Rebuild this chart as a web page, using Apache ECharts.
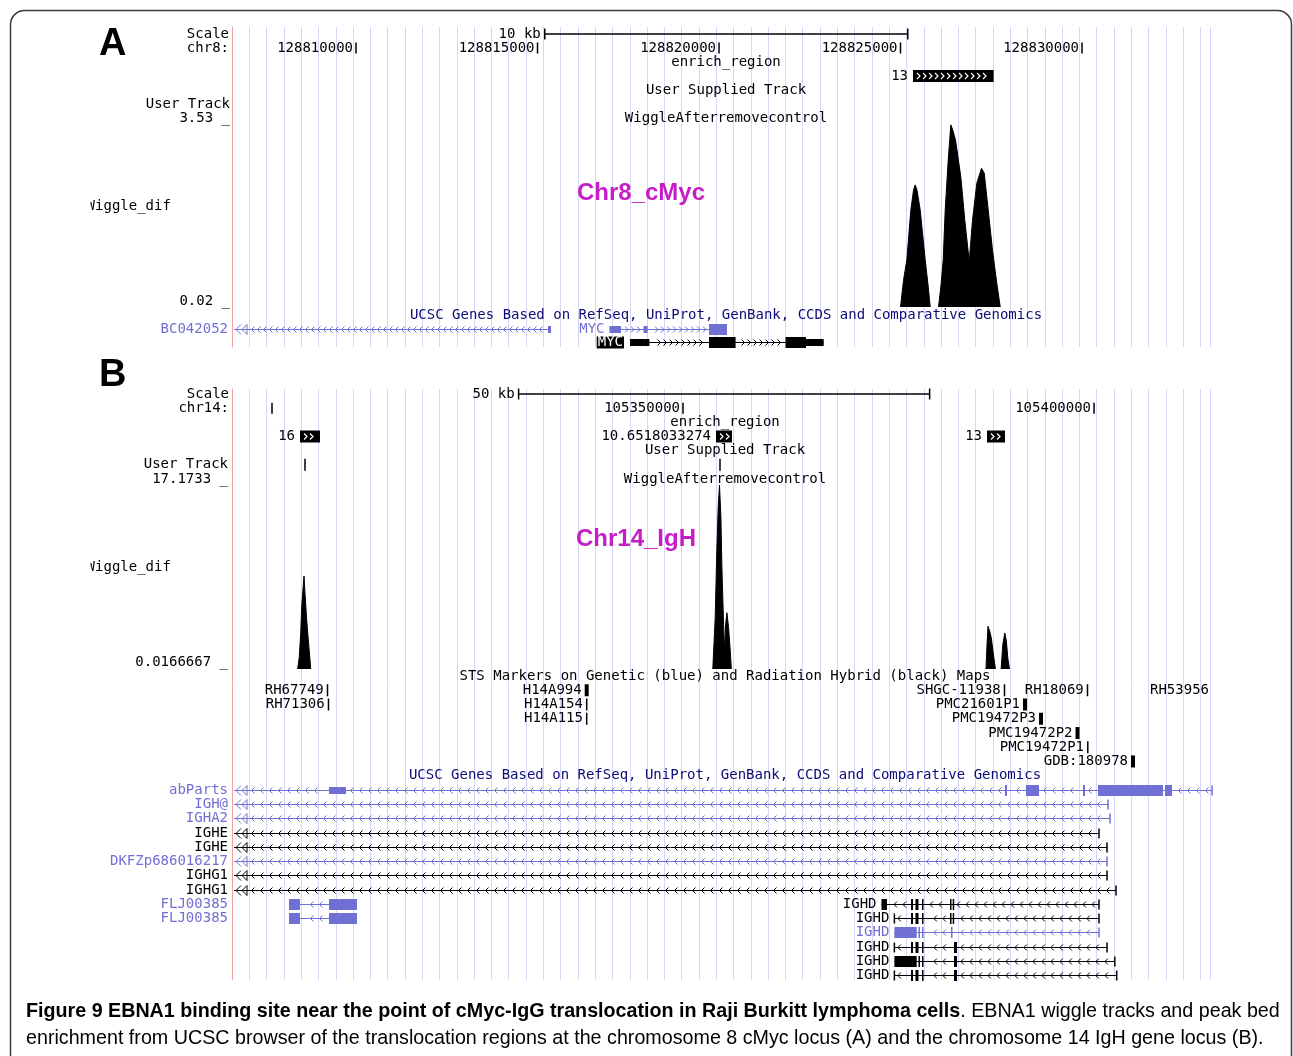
<!DOCTYPE html>
<html><head><meta charset="utf-8">
<script src="https://cdn.jsdelivr.net/npm/echarts@6/dist/echarts.min.js"></script>
<style>html,body{margin:0;padding:0;background:#fff}#c{width:1293px;height:1056px}</style>
</head><body><div id="c"></div>
<script>
// ---------------- DATA ----------------
// Panel A : chr8 (cMyc locus)
const A_RANGE = [128806584, 128833801];
const A_TICKS = [128810000, 128815000, 128820000, 128825000, 128830000];
const A_TICK_LABELS = ['128810000', '128815000', '128820000', '128825000', '128830000'];
const A_SCALEBAR = [[128815200, 128825200, 0]];
const A_BED = [[128825344, 128827565, 3]];
const A_BED_LABELS = ['13'];
const A_WIG_RANGE = [0.02, 3.53];
const A_PEAK1 = [[128825000,0.02],[128825083,0.52],[128825174,0.90],[128825284,1.83],[128825358,2.20],[128825405,2.30],[128825455,2.20],[128825543,1.83],[128825680,0.90],[128825758,0.43],[128825818,0.02]];
const A_PEAK2 = [[128826047,0.02],[128826116,0.43],[128826176,0.90],[128826231,1.83],[128826314,2.76],[128826386,3.42],[128826441,3.32],[128826515,3.14],[128826661,2.45],[128826771,1.64],[128826893,0.87],[128826983,1.64],[128827102,2.33],[128827231,2.61],[128827306,2.52],[128827416,1.83],[128827534,1.08],[128827653,0.46],[128827747,0.02]];
// genes: name, row, start, end, strand, shade, label mode
const A_GENES = [
  ['BC042052', 1, 128800000, 128815372, '-', 'light', 'left'],
  ['MYC',      1, 128816984, 128820220, '+', 'light', 'inline'],
  ['MYC',      2, 128817548, 128822884, '+', 'dark',  'box']
];
// exons: gene index, start, end, tall(1)/thin(0)
const A_EXONS = [
  [0, 128815289, 128815372, 0],
  [1, 128816984, 128817300, 0], [1, 128817920, 128818033, 0], [1, 128819724, 128820220, 1],
  [2, 128817548, 128818082, 0], [2, 128819724, 128820457, 1], [2, 128821832, 128822397, 1], [2, 128822397, 128822884, 0]
];

// Panel B : chr14 (IgH locus)
const B_RANGE = [105295134, 105415324];
const B_TICKS = [105300000, 105350000, 105400000];
const B_TICK_LABELS = ['', '105350000', '105400000'];
const B_SCALEBAR = [[105330000, 105380000, 0]];
const SCALE_LABELS = ['10 kb', '50 kb'];
const B_BED = [[105303406, 105305839, 3], [105354013, 105355959, 3], [105386980, 105389170, 3]];
const B_BED_LABELS = ['16', '10.6518033274', '13'];
const B_USER_MARKS = [[105304014, 5], [105354499, 5]];
const B_WIG_RANGE = [0.0166667, 17.1733];
const B_PEAK1 = [[105303126,0.0167],[105303321,1.13],[105303491,3.26],[105303613,5.67],[105303893,8.46],[105304014,6.89],[105304221,4.46],[105304416,2.65],[105304623,0.83],[105304708,0.0167]];
const B_PEAK2 = [[105353623,0.0167],[105353915,4.66],[105354110,10.76],[105354280,14.72],[105354438,16.70],[105354608,13.81],[105354730,9.24],[105354937,4.06],[105355058,1.62],[105355180,4.06],[105355338,5.12],[105355545,3.75],[105355752,1.62],[105355874,0.0167]];
const B_PEAK3 = [[105386858,0.0167],[105386980,2.23],[105387101,3.90],[105387308,3.45],[105387503,2.84],[105387710,1.62],[105388002,0.0167]];
const B_PEAK4 = [[105388696,0.0167],[105388903,2.23],[105389146,3.29],[105389341,2.53],[105389511,1.02],[105389718,0.0167]];
// STS markers: name, row, position, marker kind
const B_STS = [
  ['RH67749', 1, 105306752, 'thin'], ['H14A994', 1, 105338283, 'thick'], ['SHGC-11938', 1, 105389108, 'thin'],
  ['RH18069', 1, 105399205, 'thin'], ['RH53956', 1, 105414351, 'none'],
  ['RH71306', 2, 105306870, 'thin'], ['H14A154', 2, 105338283, 'thin'], ['PMC21601P1', 2, 105391602, 'thick'],
  ['H14A115', 3, 105338283, 'thin'], ['PMC19472P3', 3, 105393549, 'thick'],
  ['PMC19472P2', 4, 105397989, 'thick'],
  ['PMC19472P1', 5, 105399241, 'thin'],
  ['GDB:180978', 6, 105404740, 'thick']
];
const B_GENES = [
  ['abParts', 8, 105280000, 105414351, '-', 'light', 'left'],
  ['IGH@', 9, 105280000, 105401699, '-', 'light', 'left'],
  ['IGHA2', 10, 105280000, 105401943, '-', 'light', 'left'],
  ['IGHE', 11, 105280000, 105400605, '-', 'dark', 'left'],
  ['IGHE', 12, 105280000, 105401578, '-', 'dark', 'left'],
  ['DKFZp686016217', 13, 105280000, 105401578, '-', 'light', 'left'],
  ['IGHG1', 14, 105280000, 105401578, '-', 'dark', 'left'],
  ['IGHG1', 15, 105280000, 105402673, '-', 'dark', 'left'],
  ['FLJ00385', 16, 105302068, 105310340, '-', 'light', 'left'],
  ['FLJ00385', 17, 105302068, 105310340, '-', 'light', 'left'],
  ['IGHD', 16, 105374144, 105400605, '-', 'dark', 'inline'],
  ['IGHD', 17, 105375713, 105400605, '-', 'dark', 'inline'],
  ['IGHD', 18, 105375713, 105400605, '-', 'light', 'inline'],
  ['IGHD', 19, 105375713, 105401578, '-', 'dark', 'inline'],
  ['IGHD', 20, 105375713, 105402527, '-', 'dark', 'inline'],
  ['IGHD', 21, 105375713, 105402758, '-', 'dark', 'inline']
];
const B_EXONS = [
  [0,105306934,105309002,0],[0,105389169,105389413,1],[0,105391725,105393306,1],[0,105398658,105398901,1],[0,105400483,105408390,1],[0,105408633,105409485,1],
  [8,105302068,105303406,1],[8,105306934,105310340,1],
  [9,105302068,105303406,1],[9,105306934,105310340,1],
  [10,105374144,105374813,1],[10,105377733,105377976,1],[10,105378280,105378645,1],[10,105379073,105379195,1],[10,105382479,105382600,1],[10,105382808,105382929,1],
  [11,105377733,105377976,1],[11,105378280,105378645,1],[11,105379073,105379195,1],[11,105382479,105382600,1],[11,105382808,105382929,1],
  [12,105375713,105378426,1],[12,105378645,105378770,1],[12,105379073,105379195,1],[12,105382600,105382720,1],
  [13,105377733,105377976,1],[13,105378280,105378645,1],[13,105379073,105379195,1],[13,105382965,105383330,1],
  [14,105375713,105378426,1],[14,105378645,105378770,1],[14,105379073,105379195,1],[14,105382965,105383330,1],
  [15,105377733,105377976,1],[15,105378280,105378645,1],[15,105379073,105379195,1],[15,105382965,105383330,1]
];

// ---------------- STYLE / LAYOUT ----------------
const LIGHT = '#7070d4', DARK = '#000', NAVY = '#0c0c78', GUIDE = '#d6d6f6', REDLINE = '#f0a0a0', MAGENTA = '#c61ec6';
const MONO = '"DejaVu Sans Mono", monospace';
const FONT = '14px ' + MONO;
const L = 232, W = 988, CX = L + W / 2;
const GUIDE_STEP = 17.294, GUIDE_UNITS = 56.55;
const GA = {top: 27, h: 320}, GB = {top: 389, h: 591};
const TA = {top: 27, rows: 7, rowH: 14};
const WA = {top: 119, h: 188};
const BA = {top: 308.25, rows: 3, rowH: 13.5};
const TB = {top: 386.9, rows: 7, rowH: 14.17};
const WB = {top: 480, h: 189};
const BB = {top: 668.9, rows: 22, rowH: 14.238};
const rowY = (g, r) => g.top + (r + 0.5) * g.rowH;

const mctx = document.createElement('canvas').getContext('2d');
function measure(s, font) { mctx.font = font; return mctx.measureText(s).width; }

function txt(x, y, s, color, align, font) {
  return {type: 'text', silent: true, style: {text: s, x: x, y: y, fill: color, font: font || FONT,
    textAlign: align || 'left', textVerticalAlign: 'middle'}};
}

// ---------------- RENDERERS ----------------
function tickRenderer(labels) {
  return function (params, api) {
    const p = api.coord([api.value(0), api.value(1)]);
    const kids = [{type: 'rect', shape: {x: p[0] - 0.75, y: p[1] - 5.5, width: 1.5, height: 11}, style: {fill: '#000'}}];
    const lab = labels[params.dataIndex];
    if (lab) kids.push(txt(p[0] - 3, p[1], lab, '#000', 'right'));
    return {type: 'group', children: kids};
  };
}
function scaleRenderer(label) {
  return function (params, api) {
    const a = api.coord([api.value(0), api.value(2)]), b = api.coord([api.value(1), api.value(2)]);
    const y = a[1];
    return {type: 'group', children: [
      {type: 'rect', shape: {x: a[0], y: y - 0.75, width: b[0] - a[0], height: 1.5}, style: {fill: '#000'}},
      {type: 'rect', shape: {x: a[0] - 0.75, y: y - 5.5, width: 1.5, height: 11}, style: {fill: '#000'}},
      {type: 'rect', shape: {x: b[0] - 0.75, y: y - 5.5, width: 1.5, height: 11}, style: {fill: '#000'}},
      txt(a[0] - 4, y, label, '#000', 'right')
    ]};
  };
}
function bedRenderer(labels) {
  return function (params, api) {
    const a = api.coord([api.value(0), api.value(2)]), b = api.coord([api.value(1), api.value(2)]);
    const y = a[1];
    let d = '';
    for (let x = a[0] + 4; x + 3 < b[0] - 2; x += 6) d += 'M' + x + ',' + (y - 3) + 'L' + (x + 3) + ',' + y + 'L' + x + ',' + (y + 3);
    const kids = [{type: 'rect', shape: {x: a[0], y: y - 6, width: b[0] - a[0], height: 12}, style: {fill: '#000'}}];
    if (d) kids.push({type: 'path', shape: {pathData: d}, style: {stroke: '#fff', fill: 'none', lineWidth: 1.2}});
    kids.push(txt(a[0] - 5, y, labels[params.dataIndex], '#000', 'right'));
    return {type: 'group', children: kids};
  };
}
function markRenderer(params, api) {
  const p = api.coord([api.value(0), api.value(1)]);
  return {type: 'rect', shape: {x: p[0] - 0.75, y: p[1] - 6, width: 1.5, height: 12}, style: {fill: '#000'}};
}
function stsRenderer(items) {
  return function (params, api) {
    const it = items[params.dataIndex];
    const p = api.coord([it[2], it[1]]);
    const kids = [];
    const w = it[3] === 'thick' ? 4 : (it[3] === 'thin' ? 1.5 : 0);
    if (w) kids.push({type: 'rect', shape: {x: p[0] - w / 2, y: p[1] - 6, width: w, height: 12}, style: {fill: '#000'}});
    kids.push(txt(p[0] - w / 2 - 3, p[1], it[0], '#000', 'right'));
    return {type: 'group', children: kids};
  };
}
function geneRenderer(genes, exons, spacing) {
  return function (params, api) {
    const gi = params.dataIndex, g = genes[gi];
    const cs = params.coordSys, Lx = cs.x, Rx = cs.x + cs.width;
    const row = g[1];
    const sP = api.coord([g[2], row]), eP = api.coord([g[3], row]);
    const y = Math.round(sP[1]) + 0.5;
    const col = g[5] === 'light' ? LIGHT : DARK;
    const clipL = sP[0] < Lx;
    const x0 = clipL ? Lx + 2 : sP[0];
    const x1 = Math.min(eP[0], Rx);
    const kids = [{type: 'line', shape: {x1: x0, y1: y, x2: x1, y2: y}, style: {stroke: col, lineWidth: 1}}];
    const ex = exons.filter(e => e[0] === gi).map(e => {
      const a = api.coord([e[1], row])[0], b = api.coord([e[2], row])[0];
      return [a, Math.max(b, a + 1.5), e[3]];
    });
    ex.forEach(r => {
      const h = r[2] ? 11 : 7;
      kids.push({type: 'rect', shape: {x: r[0], y: y - h / 2, width: r[1] - r[0], height: h}, style: {fill: col}});
    });
    const hasAt = x => ex.some(r => Math.abs(r[0] - x) < 2 || Math.abs(r[1] - x) < 2);
    if (!clipL && !hasAt(sP[0])) kids.push({type: 'rect', shape: {x: sP[0] - 0.75, y: y - 5, width: 1.5, height: 10}, style: {fill: col}});
    if (eP[0] <= Rx && !hasAt(eP[0])) kids.push({type: 'rect', shape: {x: eP[0] - 0.75, y: y - 5, width: 1.5, height: 10}, style: {fill: col}});
    let d = '';
    const leftward = g[4] === '-';
    for (let x = x0 + (clipL ? 19 : 5); x < x1 - 3; x += spacing) {
      if (ex.some(r => x > r[0] - 4 && x < r[1] + 4)) continue;
      d += leftward ? ('M' + (x + 1.5) + ',' + (y - 3) + 'L' + (x - 1.5) + ',' + y + 'L' + (x + 1.5) + ',' + (y + 3))
                    : ('M' + (x - 1.5) + ',' + (y - 3) + 'L' + (x + 1.5) + ',' + y + 'L' + (x - 1.5) + ',' + (y + 3));
    }
    if (clipL) {
      d += 'M' + (Lx + 9) + ',' + (y - 5) + 'L' + (Lx + 4) + ',' + y + 'L' + (Lx + 9) + ',' + (y + 5) +
           'M' + (Lx + 15) + ',' + (y - 5) + 'L' + (Lx + 10) + ',' + y + 'L' + (Lx + 15) + ',' + (y + 5) + 'Z';
    }
    if (d) kids.push({type: 'path', shape: {pathData: d}, style: {stroke: col, fill: 'none', lineWidth: 1}});
    if (g[6] === 'left') kids.push(txt(Lx - 4, y, g[0], col, 'right'));
    else if (g[6] === 'inline') kids.push(txt(sP[0] - 5, y, g[0], col, 'right'));
    else if (g[6] === 'box') {
      const w = measure(g[0], FONT) + 2;
      kids.push({type: 'rect', shape: {x: sP[0] - 6 - w, y: y - 6, width: w, height: 12}, style: {fill: '#000'}});
      kids.push(txt(sP[0] - 6 - w / 2, y, g[0], '#fff', 'center'));
    }
    return {type: 'group', children: kids};
  };
}

// ---------------- OPTION ----------------
const grids = [
  {left: L, top: GA.top, width: GUIDE_STEP * GUIDE_UNITS, height: GA.h},
  {left: L, top: GB.top, width: GUIDE_STEP * GUIDE_UNITS, height: GB.h},
  {left: L, top: TA.top, width: W, height: TA.rows * TA.rowH},
  {left: L, top: WA.top, width: W, height: WA.h},
  {left: L, top: BA.top, width: W, height: BA.rows * BA.rowH},
  {left: L, top: TB.top, width: W, height: TB.rows * TB.rowH},
  {left: L, top: WB.top, width: W, height: WB.h},
  {left: L, top: BB.top, width: W, height: BB.rows * BB.rowH}
].map(g => Object.assign({outerBoundsMode: 'none', containLabel: false}, g));

const guideX = gi => ({type: 'value', gridIndex: gi, min: 0, max: GUIDE_UNITS, interval: 1,
  axisLine: {show: false}, axisTick: {show: false}, axisLabel: {show: false},
  splitLine: {show: true, lineStyle: {color: GUIDE, width: 1}}});
const guideY = gi => ({type: 'value', gridIndex: gi, min: 0, max: 1, position: 'left',
  axisLine: {show: true, onZero: false, lineStyle: {color: REDLINE, width: 1}}, axisTick: {show: false},
  axisLabel: {show: false}, splitLine: {show: false}});
const genX = (gi, r) => ({type: 'value', gridIndex: gi, min: r[0], max: r[1], show: false, splitLine: {show: false}});
const rowsY = (gi, rows) => ({type: 'value', gridIndex: gi, min: -0.5, max: rows - 0.5, inverse: true, show: false, splitLine: {show: false}});
const wigY = (gi, r) => ({type: 'value', gridIndex: gi, min: r[0], max: r[1], show: false, splitLine: {show: false}});

const wig = (ax, data) => ({type: 'line', xAxisIndex: ax, yAxisIndex: ax, data: data, symbol: 'none', silent: true,
  lineStyle: {color: '#000', width: 1}, areaStyle: {color: '#000', opacity: 1, origin: 'start'}, z: 3});
const cust = (ax, data, encode, fn) => ({type: 'custom', xAxisIndex: ax, yAxisIndex: ax, data: data, encode: encode,
  renderItem: fn, silent: true, z: 4});

const series = [
  {type: 'line', xAxisIndex: 0, yAxisIndex: 0, data: []},
  {type: 'line', xAxisIndex: 1, yAxisIndex: 1, data: []},
  cust(2, A_SCALEBAR, {x: [0, 1], y: 2}, scaleRenderer(SCALE_LABELS[0])),
  cust(2, A_TICKS.map(v => [v, 1]), {x: 0, y: 1}, tickRenderer(A_TICK_LABELS)),
  cust(2, A_BED, {x: [0, 1], y: 2}, bedRenderer(A_BED_LABELS)),
  wig(3, A_PEAK1), wig(3, A_PEAK2),
  cust(4, A_GENES.map(g => [g[2], g[3], g[1]]), {x: [0, 1], y: 2}, geneRenderer(A_GENES, A_EXONS, 6)),
  cust(5, B_SCALEBAR, {x: [0, 1], y: 2}, scaleRenderer(SCALE_LABELS[1])),
  cust(5, B_TICKS.map(v => [v, 1]), {x: 0, y: 1}, tickRenderer(B_TICK_LABELS)),
  cust(5, B_BED, {x: [0, 1], y: 2}, bedRenderer(B_BED_LABELS)),
  cust(5, B_USER_MARKS, {x: 0, y: 1}, markRenderer),
  wig(6, B_PEAK1), wig(6, B_PEAK2), wig(6, B_PEAK3), wig(6, B_PEAK4),
  cust(7, B_STS.map(s => [s[2], s[1]]), {x: 0, y: 1}, stsRenderer(B_STS)),
  cust(7, B_GENES.map(g => [g[2], g[3], g[1]]), {x: [0, 1], y: 2}, geneRenderer(B_GENES, B_EXONS, 9))
];

// static labels
function T(text, x, y, align, color, font) {
  return {type: 'text', x: x, y: y, z: 10, silent: true,
    style: {text: text, fill: color || '#000', font: font || FONT, textAlign: align || 'left', textVerticalAlign: 'middle'}};
}
const BIG = 'bold 38px "Liberation Sans", Arial, sans-serif';
const MAG = 'bold 24px "Liberation Sans", Arial, sans-serif';
const CAP_B = 'bold 19.7px "Liberation Sans", Arial, sans-serif';
const CAP_R = '19.7px "Liberation Sans", Arial, sans-serif';
const cap1b = 'Figure 9 EBNA1 binding site near the point of cMyc-IgG translocation in Raji Burkitt lymphoma cells';
const cap1r = '. EBNA1 wiggle tracks and peak bed';
const cap2 = 'enrichment from UCSC browser of the translocation regions at the chromosome 8 cMyc locus (A) and the chromosome 14 IgH gene locus (B).';
const UCSC_T = 'UCSC Genes Based on RefSeq, UniProt, GenBank, CCDS and Comparative Genomics';

const graphics = [
  {type: 'rect', z: 0, silent: true, shape: {x: 10.5, y: 10.5, width: 1281, height: 1200, r: 14},
    style: {fill: 'transparent', stroke: '#3c3c3c', lineWidth: 1.5}},
  // panel A
  T('A', 99, 45, 'left', '#000', BIG),
  T('Scale', L - 3, rowY(TA, 0), 'right'),
  T('chr8:', L - 3, rowY(TA, 1), 'right'),
  T('enrich_region', CX, rowY(TA, 2), 'center'),
  T('User Supplied Track', CX, rowY(TA, 4), 'center'),
  T('User Track', L - 2, rowY(TA, 5), 'right'),
  T('3.53 _', L - 2, rowY(TA, 6), 'right'),
  T('WiggleAfterremovecontrol', CX, rowY(TA, 6), 'center'),
  T('Chr8_cMyc', 641, 193, 'center', MAGENTA, MAG),
  T('Wiggle_dif', 86.6, 206, 'left'),
  T('0.02 _', L - 2, 301, 'right'),
  T(UCSC_T, CX, rowY(BA, 0), 'center', NAVY),
  // panel B
  T('B', 99, 376, 'left', '#000', BIG),
  T('Scale', L - 3, rowY(TB, 0), 'right'),
  T('chr14:', L - 3, rowY(TB, 1), 'right'),
  T('enrich_region', CX - 1, rowY(TB, 2), 'center'),
  T('User Supplied Track', CX - 1, rowY(TB, 4), 'center'),
  T('User Track', L - 4, rowY(TB, 5), 'right'),
  T('17.1733 _', L - 4, rowY(TB, 6), 'right'),
  T('WiggleAfterremovecontrol', CX - 1, rowY(TB, 6), 'center'),
  T('Chr14_IgH', 636, 539, 'center', MAGENTA, MAG),
  T('Wiggle_dif', 86.6, 567, 'left'),
  T('0.0166667 _', L - 4, 662, 'right'),
  T('STS Markers on Genetic (blue) and Radiation Hybrid (black) Maps', CX - 1, rowY(BB, 0), 'center'),
  T(UCSC_T, CX - 1, rowY(BB, 7), 'center', NAVY),
  // masks for clipped left labels
  {type: 'rect', z: 20, silent: true, shape: {x: 60, y: 196, width: 30.5, height: 20}, style: {fill: '#fff'}},
  {type: 'rect', z: 20, silent: true, shape: {x: 60, y: 557, width: 30.5, height: 20}, style: {fill: '#fff'}},
  // caption
  T(cap1b, 26, 1012, 'left', '#000', CAP_B),
  T(cap1r, 26 + measure(cap1b, CAP_B), 1012, 'left', '#000', CAP_R),
  T(cap2, 26, 1039, 'left', '#000', CAP_R)
];

const chart = echarts.init(document.getElementById('c'), null, {renderer: 'canvas'});
chart.setOption({
  animation: false,
  backgroundColor: '#fff',
  grid: grids,
  xAxis: [guideX(0), guideX(1), genX(2, A_RANGE), genX(3, A_RANGE), genX(4, A_RANGE), genX(5, B_RANGE), genX(6, B_RANGE), genX(7, B_RANGE)],
  yAxis: [guideY(0), guideY(1), rowsY(2, TA.rows), wigY(3, A_WIG_RANGE), rowsY(4, BA.rows), rowsY(5, TB.rows), wigY(6, B_WIG_RANGE), rowsY(7, BB.rows)],
  series: series,
  graphic: {elements: graphics}
});
</script>
</body></html>
